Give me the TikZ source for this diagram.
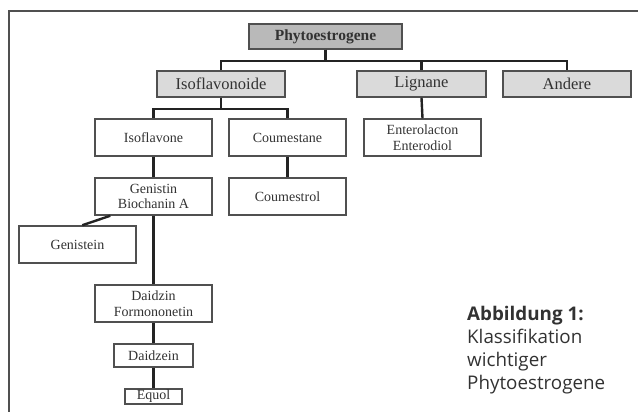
\documentclass[tikz,border=0pt]{standalone}
\usepackage{fontspec}
\setmainfont{Liberation Serif}
\newfontfamily\capfont{Open Sans}
\usetikzlibrary{calc}

\begin{document}
\begin{tikzpicture}[x=1pt,y=-1pt]
\definecolor{wire}{RGB}{35,35,35}
\definecolor{rim}{RGB}{80,80,80}
\definecolor{topfill}{RGB}{185,185,185}
\definecolor{grpfill}{RGB}{218,218,218}
\definecolor{ink}{RGB}{50,50,50}
\tikzset{
  box/.style={draw=rim,line width=1.5pt,inner sep=0pt,align=center,
    text=ink,font=\fontsize{14}{15.5}\selectfont},
  groupbox/.style={box,fill=grpfill,minimum width=128pt,minimum height=26pt,
    font=\fontsize{16.5}{18}\selectfont},
  link/.style={draw=wire,line width=2.4pt}
}
\useasboundingbox (0,0) rectangle (638,412);

% Frame (top and left edge only).
\draw[rim,line width=1.2pt] (9,412)--(9,11)--(638,11);

% Top level and the three groups.
\node[box,fill=topfill,minimum width=153pt,minimum height=25pt,
  font=\fontsize{15.5}{17}\selectfont\bfseries] (phyto) at (325.5,36.5) {Phytoestrogene};
\node[groupbox] (iso) at (221,84) {Isoflavonoide};
\node[groupbox,minimum width=129pt] (lig) at (421.5,84) {Lignane};
\node[groupbox] (andere) at (567,84) {Andere};

% Sub-classes and compounds.
\node[box,minimum width=117pt,minimum height=37pt] (isofl) at (153.5,137.5) {Isoflavone};
\node[box,minimum width=117pt,minimum height=37pt] (coum) at (287.5,137.5) {Coumestane};
\node[box,minimum width=117pt,minimum height=37pt] (entero) at (422.5,137.5) {Enterolacton\\Enterodiol};
\node[box,minimum width=117pt,minimum height=37pt] (genistin) at (153.5,196.5) {Genistin\\Biochanin A};
\node[box,minimum width=117pt,minimum height=37pt] (coumol) at (287.5,196.5) {Coumestrol};
\node[box,minimum width=117pt,minimum height=37pt] (genistein) at (77.5,244.5) {Genistein};
\node[box,minimum width=117pt,minimum height=37pt] (daidzin) at (153.5,303.5) {Daidzin\\Formononetin};
\node[box,minimum width=79pt,minimum height=23pt] (daidzein) at (153.5,355.5) {Daidzein};
\node[box,minimum width=57pt,minimum height=15pt] (equol) at (153.5,396.5) {Equol};

% Tree connectors.
\draw[link] (phyto.south) -- ++(0,11) -| (iso.north);
\draw[link] (phyto.south) -- ++(0,11) -| (lig.north);
\draw[link] (phyto.south) -- ++(0,11) -| (andere.north);
\draw[link] (iso.south) -- ++(0,11) -| (isofl.north);
\draw[link] (iso.south) -- ++(0,11) -| (coum.north);
\draw[link] (lig.south) -- (entero.north);
\draw[link] (isofl.south) -- (genistin.north);
\draw[link] (coum.south) -- (coumol.north);
\draw[link] (genistin.204) -- (genistein.76);
\draw[link] (genistin.south) -- (daidzin.north);
\draw[link] (daidzin.south) -- (daidzein.north);
\draw[link] (daidzein.south) -- (equol.north);

% Caption.
\node[anchor=north west,align=left,inner sep=0pt,text=ink,
  font=\capfont\fontsize{18.8}{23}\selectfont] (caption) at (467,306)
  {\textbf{Abbildung 1:}\\Klassifikation\\wichtiger\\Phytoestrogene};

\end{tikzpicture}
\end{document}
